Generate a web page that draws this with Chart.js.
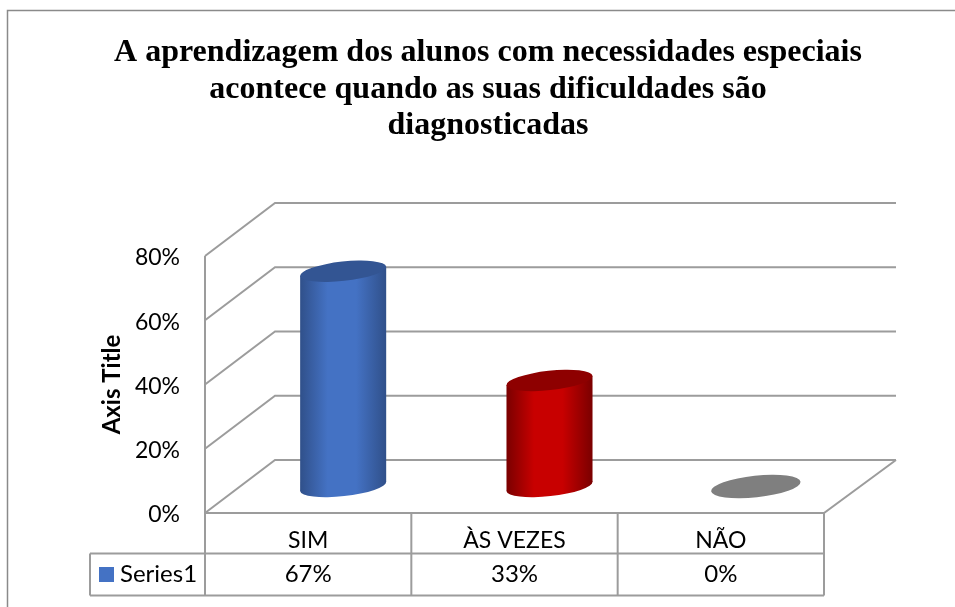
<!DOCTYPE html>
<html lang="pt">
<head>
<meta charset="utf-8">
<title>Aprendizagem</title>
<script src="https://cdn.jsdelivr.net/npm/chart.js@4/dist/chart.umd.min.js"></script>
<style>
  html, body { margin: 0; padding: 0; background: #fff; }
  canvas { display: block; }
</style>
</head>
<body>
<canvas id="grafico" width="955" height="607"></canvas>
<script>
// dados
const categories = ['SIM', 'ÀS VEZES', 'NÃO'];
const seriesName = 'Series1';
const seriesValues = [67, 33, 0];
const titleLines = [
    'A aprendizagem dos alunos com necessidades especiais',
    'acontece quando as suas dificuldades são',
    'diagnosticadas'
];
const barColors = ['#4472C4', '#C80000', '#7F7F7F'];
const edgeColors = ['#30508A', '#7A0000', '#7F7F7F'];
const topColors = ['#335593', '#8E0000', '#7F7F7F'];

const lineColor = '#9c9c9c';
const labelFont = '24px Lato, Calibri, sans-serif';
const depthX = 70;
const depthY = 53;

// parede, chao e linhas de grade em perspectiva
function drawWalls(chart) {
    const ctx = chart.ctx;
    const y = chart.scales.y;
    const area = chart.chartArea;

    ctx.save();
    ctx.strokeStyle = lineColor;
    ctx.lineWidth = 2;
    y.ticks.forEach(tick => {
        const py = y.getPixelForValue(tick.value);
        ctx.beginPath();
        ctx.moveTo(area.left, py);
        ctx.lineTo(area.left + depthX, py - depthY);
        ctx.lineTo(area.right + depthX + 2, py - depthY);
        ctx.stroke();
    });
    ctx.beginPath();
    ctx.moveTo(area.left, area.top);
    ctx.lineTo(area.left, area.bottom);
    ctx.lineTo(area.right, area.bottom);
    ctx.lineTo(area.right + depthX + 2, area.bottom - depthY);
    ctx.stroke();
    ctx.restore();
}

function ellipsePath(ctx, cx, cy, a, b) {
    ctx.beginPath();
    ctx.ellipse(cx, cy, a, b, -6.2 * Math.PI / 180, 0, Math.PI * 2);
}

// cada barra vira um cilindro, usando a posicao calculada pelo Chart.js
function drawCylinder(ctx, bar, i) {
    const p = bar.getProps(['x', 'y', 'base', 'width'], true);
    const cx = p.x + depthX / 2;
    const top = p.y - depthY / 2;
    const bottom = p.base - depthY / 2;
    const hw = p.width / 2;
    const a = hw * 1.005;
    const b = hw * 0.225;
    const tilt = hw * 0.104;

    if (bottom - top < 1) {
        ctx.fillStyle = topColors[i];
        ellipsePath(ctx, cx, top, a * 1.04, b * 1.12);
        ctx.fill();
        return;
    }

    const grad = ctx.createLinearGradient(cx - hw, 0, cx + hw, 0);
    grad.addColorStop(0, edgeColors[i]);
    grad.addColorStop(0.32, barColors[i]);
    grad.addColorStop(0.65, barColors[i]);
    grad.addColorStop(1, edgeColors[i]);

    ctx.fillStyle = grad;
    ellipsePath(ctx, cx, bottom, a, b);
    ctx.fill();
    ctx.beginPath();
    ctx.moveTo(cx - hw, top + tilt);
    ctx.lineTo(cx - hw, bottom + tilt);
    ctx.lineTo(cx + hw, bottom - tilt);
    ctx.lineTo(cx + hw, top - tilt);
    ctx.closePath();
    ctx.fill();

    ctx.fillStyle = topColors[i];
    ellipsePath(ctx, cx, top, a, b);
    ctx.fill();
}

// tabela de dados embaixo do grafico
function drawTable(chart) {
    const ctx = chart.ctx;
    const x = chart.scales.x;
    const area = chart.chartArea;
    const tableLeft = 90;
    const rowTop = 553.5;
    const rowBottom = 595.5;

    ctx.save();
    ctx.strokeStyle = lineColor;
    ctx.lineWidth = 2;
    ctx.beginPath();
    ctx.moveTo(tableLeft, rowTop);
    ctx.lineTo(area.right, rowTop);
    ctx.moveTo(tableLeft, rowBottom);
    ctx.lineTo(area.right, rowBottom);
    ctx.moveTo(tableLeft, rowTop);
    ctx.lineTo(tableLeft, rowBottom);
    ctx.moveTo(area.left, area.bottom);
    ctx.lineTo(area.left, rowBottom);
    categories.forEach((c, i) => {
        const edge = x.getPixelForValue(i) + (area.right - area.left) / categories.length / 2;
        ctx.moveTo(edge, area.bottom);
        ctx.lineTo(edge, rowBottom);
    });
    ctx.stroke();

    ctx.fillStyle = barColors[0];
    ctx.fillRect(99, 567, 15, 15);

    ctx.fillStyle = '#000';
    ctx.font = labelFont;
    ctx.textBaseline = 'middle';
    ctx.textAlign = 'left';
    ctx.fillText(seriesName, 120, 574.5);
    ctx.textAlign = 'center';
    seriesValues.forEach((v, i) => {
        ctx.fillText(v + '%', x.getPixelForValue(i), 574.5);
    });
    ctx.restore();
}

const cylinderPlugin = {
    id: 'cylinder3d',
    beforeDraw(chart) {
        const ctx = chart.ctx;
        ctx.save();
        ctx.fillStyle = '#fff';
        ctx.fillRect(0, 0, chart.width, chart.height);
        // moldura do grafico
        ctx.strokeStyle = '#8a8a8a';
        ctx.lineWidth = 1.5;
        ctx.beginPath();
        ctx.moveTo(7.5, chart.height);
        ctx.lineTo(7.5, 10.5);
        ctx.lineTo(chart.width, 10.5);
        ctx.stroke();
        ctx.restore();

        // titulo fica um pouco a direita do centro da pagina
        chart.titleBlock.left = 21;
        chart.titleBlock.right = chart.width;
    },
    beforeDatasetsDraw(chart) {
        drawWalls(chart);
    },
    beforeDatasetDraw(chart, args) {
        args.meta.data.forEach((bar, i) => drawCylinder(chart.ctx, bar, i));
        return false;
    },
    afterDraw(chart) {
        drawTable(chart);
    }
};

new Chart(document.getElementById('grafico').getContext('2d'), {
    type: 'bar',
    data: {
        labels: categories,
        datasets: [{
            label: seriesName,
            data: seriesValues,
            backgroundColor: barColors,
            categoryPercentage: 1,
            barPercentage: 0.417
        }]
    },
    options: {
        responsive: false,
        animation: false,
        layout: { padding: { left: 0, right: 131, top: 0, bottom: 0 } },
        plugins: {
            legend: { display: false },
            tooltip: { enabled: false },
            title: {
                display: true,
                text: titleLines,
                color: '#000',
                font: { family: '"Liberation Serif", "Times New Roman", serif', size: 32, weight: 'bold', lineHeight: 1.13 },
                padding: { top: 35, bottom: 112.5 }
            }
        },
        scales: {
            x: {
                afterFit: scale => { scale.height = 94; },
                grid: { display: false },
                border: { display: false },
                ticks: {
                    color: '#000',
                    padding: 6,
                    maxRotation: 0,
                    font: { family: 'Lato, Calibri, sans-serif', size: 23 }
                }
            },
            y: {
                min: 0,
                max: 80,
                afterFit: scale => { scale.width = 205; },
                grid: { display: false },
                border: { display: false },
                title: {
                    display: true,
                    text: 'Axis Title',
                    color: '#000',
                    font: { family: 'Lato, Calibri, sans-serif', size: 24, weight: 'bold' },
                    padding: { top: 98, bottom: 0 }
                },
                ticks: {
                    stepSize: 20,
                    color: '#000',
                    padding: 17,
                    labelOffset: 2,
                    callback: v => v + '%',
                    font: { family: 'Lato, Calibri, sans-serif', size: 23 }
                }
            }
        }
    },
    plugins: [cylinderPlugin]
});
</script>
</body>
</html>
